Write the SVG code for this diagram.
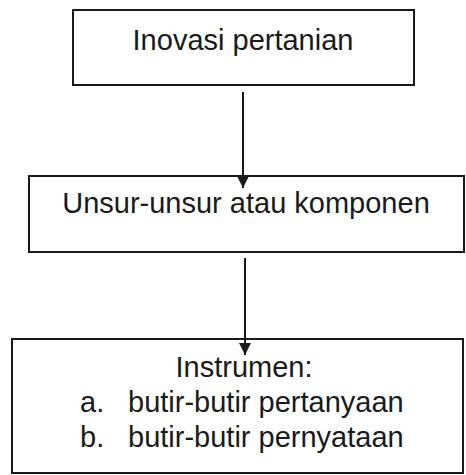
<svg xmlns="http://www.w3.org/2000/svg" width="466" height="475" viewBox="0 0 466 475">
<style>
.box{fill:#fff;stroke:#1a1a1a;stroke-width:2}
.t{font-family:"Liberation Sans",Arial,sans-serif;font-size:29px;fill:#1a1a1a}
.c{stroke:#1a1a1a;stroke-width:2;fill:none}
</style>
<defs>
<marker id="ah" viewBox="0 0 10 10" refX="10" refY="5" markerWidth="12" markerHeight="12" markerUnits="userSpaceOnUse" orient="auto">
<path d="M0,0 L10,5 L0,10 Z" fill="#1a1a1a"/>
</marker>
</defs>
<g id="node1">
<rect class="box" x="73" y="10" width="341" height="75"/>
<text class="t" x="243" y="50" text-anchor="middle">Inovasi pertanian</text>
</g>
<g id="node2">
<rect class="box" x="29" y="176" width="435" height="76"/>
<text class="t" x="246" y="213" text-anchor="middle">Unsur-unsur atau komponen</text>
</g>
<g id="node3">
<rect class="box" x="12" y="339" width="451" height="134"/>
<text class="t" x="244" y="377" text-anchor="middle">Instrumen:</text>
<text class="t" x="80" y="412">a.</text>
<text class="t" x="128" y="412">butir-butir pertanyaan</text>
<text class="t" x="80" y="447">b.</text>
<text class="t" x="128" y="447">butir-butir pernyataan</text>
</g>
<g id="connectors">
<line class="c" x1="243" y1="92" x2="243" y2="188" marker-end="url(#ah)"/>
<line class="c" x1="245" y1="258" x2="245" y2="355" marker-end="url(#ah)"/>
</g>
</svg>
